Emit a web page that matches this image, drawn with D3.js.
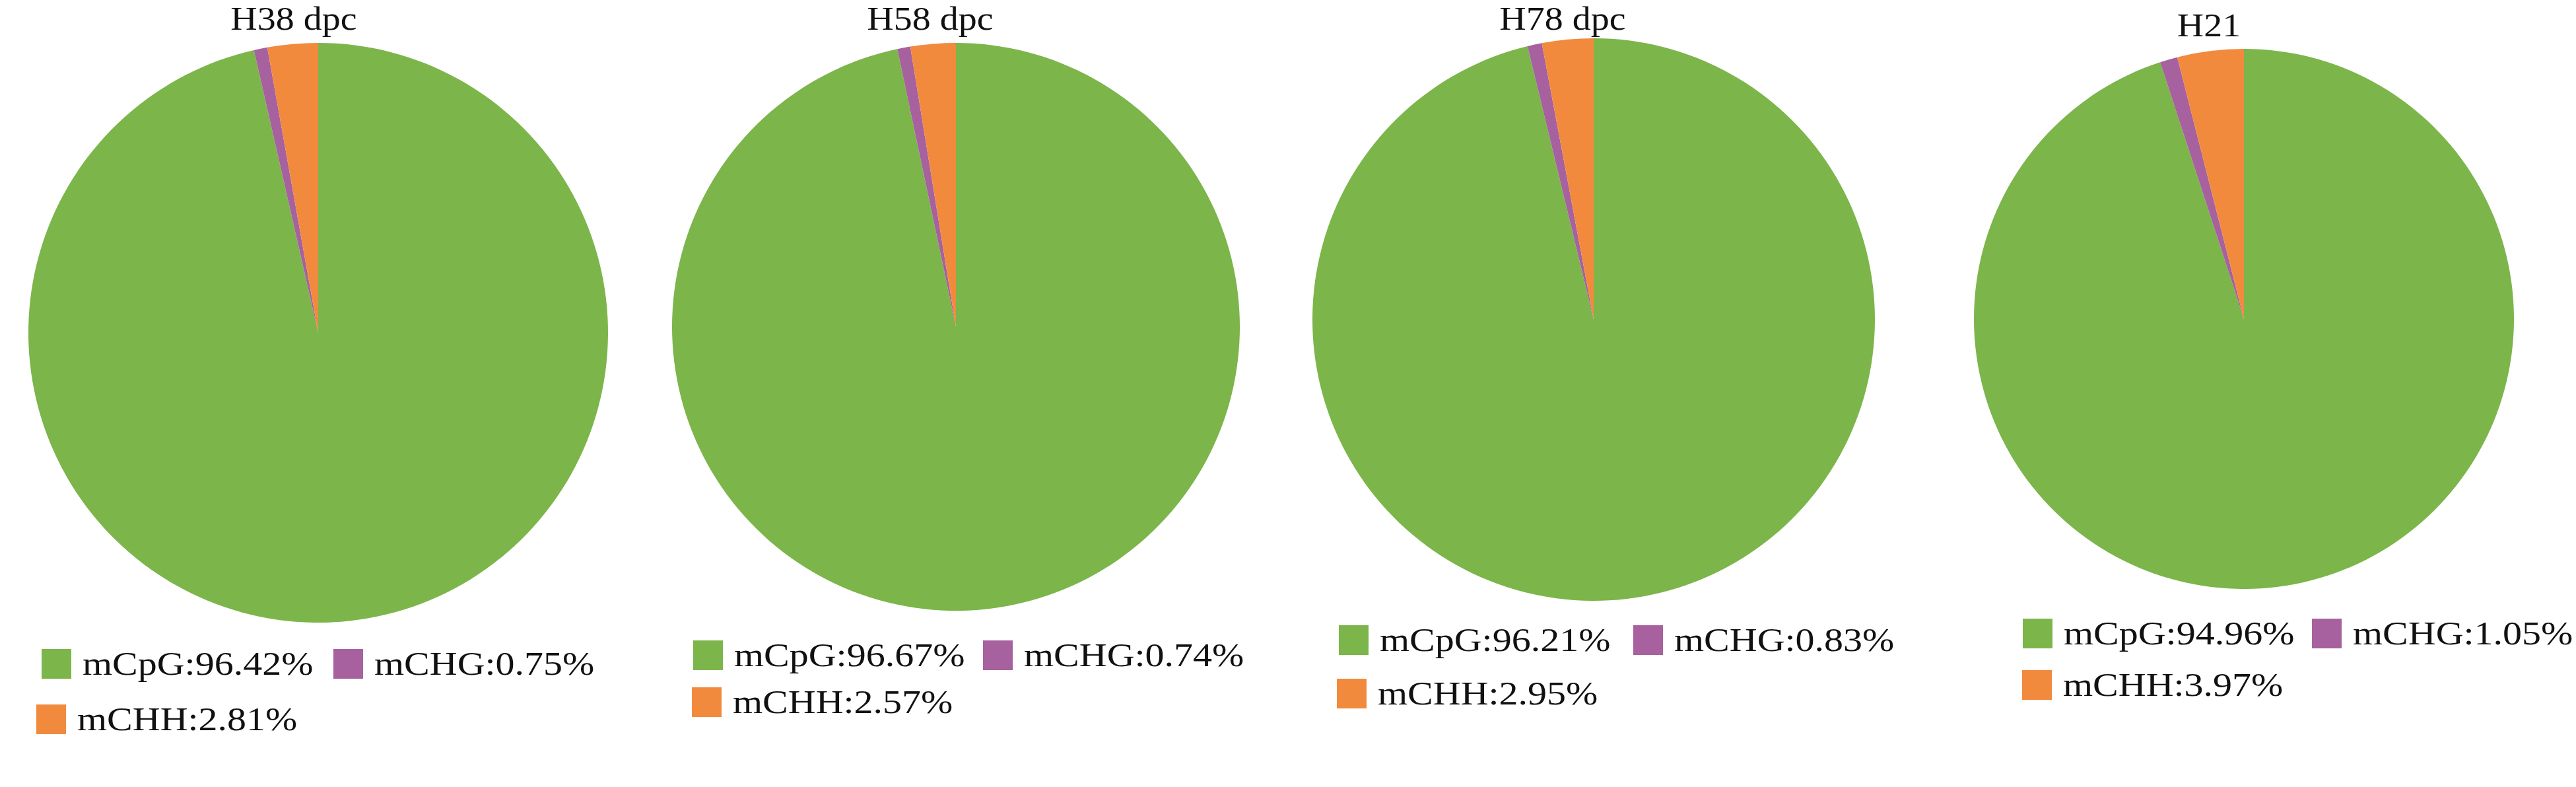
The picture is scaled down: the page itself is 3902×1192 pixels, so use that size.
<!DOCTYPE html>
<html>
<head>
<meta charset="utf-8">
<script src="https://cdn.jsdelivr.net/npm/d3@7"></script>
<style>
  body { margin: 0; background: #fff; }
  text { font-family: "Liberation Serif", "Times New Roman", serif; fill: #111; }
</style>
</head>
<body>
<div id="chart"></div>
<script>
// data
var samples = ["H38 dpc", "H58 dpc", "H78 dpc", "H21"];
var categories = ["mCpG", "mCHG", "mCHH"];
var mCpG = [96.42, 96.67, 96.21, 94.96];
var mCHG = [0.75, 0.74, 0.83, 1.05];
var mCHH = [2.81, 2.57, 2.95, 3.97];

var colors = ["#7cb54a", "#a6619e", "#f28a3e"];

// where each panel sits
var layout = [
  {cx: 482,  cy: 504, r: 439, tx: 445,  ty: 45, lx: 63,   ly: 983, ox: 55,   oy: 1067, px: 505},
  {cx: 1448, cy: 495, r: 430, tx: 1409, ty: 45, lx: 1050, ly: 970, ox: 1048, oy: 1041, px: 1489},
  {cx: 2414, cy: 484, r: 426, tx: 2367, ty: 45, lx: 2028, ly: 947, ox: 2025, oy: 1028, px: 2474},
  {cx: 3399, cy: 483, r: 409, tx: 3346, ty: 55, lx: 3064, ly: 937, ox: 3063, oy: 1015, px: 3502}
];

var width = 3902, height = 1192;
var stretch = 1.16;   // the original font is wider than Liberation Serif
var fontSize = 50;
var sw = 45;

var svg = d3.select("#chart").append("svg")
    .attr("width", width)
    .attr("height", height);

var pie = d3.pie().sort(null).value(function(d) { return d.value; });
var color = d3.scaleOrdinal().domain(categories).range(colors);

samples.forEach(function(name, i) {
  var L = layout[i];
  var values = [mCpG[i], mCHG[i], mCHH[i]];
  var rows = categories.map(function(c, k) { return {key: c, value: values[k]}; });

  var arc = d3.arc().innerRadius(0).outerRadius(L.r);

  var g = svg.append("g").attr("transform", "translate(" + L.cx + "," + L.cy + ")");
  g.selectAll("path")
      .data(pie(rows))
      .enter().append("path")
      .attr("d", arc)
      .style("fill", function(d) { return color(d.data.key); });

  svg.append("text")
      .attr("transform", "translate(" + L.tx + "," + L.ty + ") scale(1.12,1)")
      .attr("text-anchor", "middle")
      .style("font-size", "50px")
      .text(name);

  // legend: two items on the first row, one on the second
  var spots = [
    {x: L.lx, y: L.ly},
    {x: L.px, y: L.ly},
    {x: L.ox, y: L.oy}
  ];
  rows.forEach(function(d, k) {
    var s = spots[k];
    svg.append("rect")
        .attr("x", s.x)
        .attr("y", s.y)
        .attr("width", sw)
        .attr("height", sw)
        .style("fill", color(d.key));
    svg.append("text")
        .attr("transform", "translate(" + (s.x + sw + 17) + "," + (s.y + 39) + ") scale(" + stretch + ",1)")
        .style("font-size", fontSize + "px")
        .text(d.key + ":" + d3.format(".2f")(d.value) + "%");
  });
});
</script>
</body>
</html>
